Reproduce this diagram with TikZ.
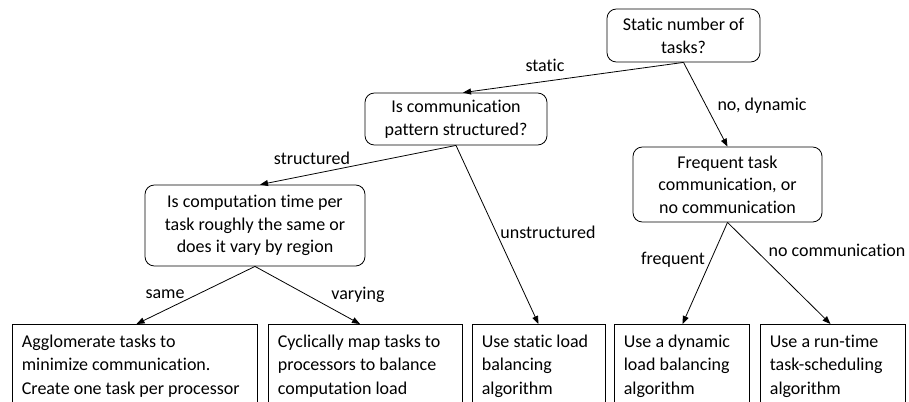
\documentclass[tikz,border=0pt]{standalone}
\usepackage{fontspec}
\setmainfont[Ligatures=NoCommon]{Carlito}
\usetikzlibrary{arrows.meta,calc}
\begin{document}
\begin{tikzpicture}[x=0.75pt,y=-0.75pt,
  every node/.style={font=\fontsize{13.5}{17}\selectfont},
  qbox/.style={draw,rounded corners=7pt,align=center,inner sep=0pt,line width=0.6pt},
  abox/.style={draw,anchor=north,inner sep=0pt,minimum height=100*0.75pt,line width=0.6pt},
  atext/.style={anchor=north west,align=left,inner sep=0pt,font=\fontsize{13.5}{17.6}\selectfont},
  conn/.style={line width=0.6pt,-{Triangle[length=6pt,width=4.5pt]}},
  lbl/.style={inner sep=0pt}]
\useasboundingbox (0,0) rectangle (909,401);
\clip (0,0) rectangle (909,401);
\node[qbox,minimum width=153*0.75pt,minimum height=53*0.75pt] (A) at (683.5,35.5) {Static number of\\tasks?};
\node[qbox,minimum width=182*0.75pt,minimum height=52*0.75pt] (B) at (456,119) {Is communication\\pattern structured?};
\node[qbox,minimum width=220*0.75pt,minimum height=81*0.75pt] (C) at (255,225.5) {Is computation time per\\task roughly the same or\\does it vary by region};
\node[qbox,minimum width=189*0.75pt,minimum height=75*0.75pt] (D) at (727.5,184.5) {Frequent task\\communication, or\\no communication};
\node[abox,minimum width=245*0.75pt] (E1) at (134.5,324) {};
\node[abox,minimum width=194*0.75pt] (E2) at (365,324) {};
\node[abox,minimum width=133*0.75pt] (E3) at (538.5,324) {};
\node[abox,minimum width=135*0.75pt] (E4) at (681.5,324) {};
\node[abox,minimum width=145*0.75pt] (E5) at (832.5,324) {};
\node[atext] (T1) at ($(E1.north west)+(10,10.5)$) {Agglomerate tasks to\\minimize communication.\\Create one task per processor};
\node[atext] (T2) at ($(E2.north west)+(10,10.5)$) {Cyclically map tasks to\\processors to balance\\computation load};
\node[atext] (T3) at ($(E3.north west)+(10,10.5)$) {Use static load\\balancing\\algorithm};
\node[atext] (T4) at ($(E4.north west)+(10,10.5)$) {Use a dynamic\\load balancing\\algorithm};
\node[atext] (T5) at ($(E5.north west)+(10,10.5)$) {Use a run-time\\task-scheduling\\algorithm};
\draw[conn] (A.south) -- ($(B.north)+(7,0)$);
\draw[conn] (A.south) -- (D.north);
\draw[conn] (B.south) -- ($(C.north)+(5,0)$);
\draw[conn] (B.south) -- (E3.north);
\draw[conn] (C.south) -- ($(E1.north)+(2,0)$);
\draw[conn] (C.south) -- ($(E2.north)+(-5,0)$);
\draw[conn] (D.south) -- ($(E4.north)+(1,0)$);
\draw[conn] (D.south) -- ($(E5.north)+(-2,0)$);
\node[lbl] (l1) at (545,65) {static};
\node[lbl] (l2) at (762,106) {no, dynamic};
\node[lbl] (l3) at (312,158) {structured};
\node[lbl] (l4) at (548,232) {unstructured};
\node[lbl] (l5) at (165,294) {same};
\node[lbl] (l6) at (358,295) {varying};
\node[lbl] (l7) at (673,260) {frequent};
\node[lbl] (l8) at (837,250) {no communication};
\end{tikzpicture}
\end{document}
